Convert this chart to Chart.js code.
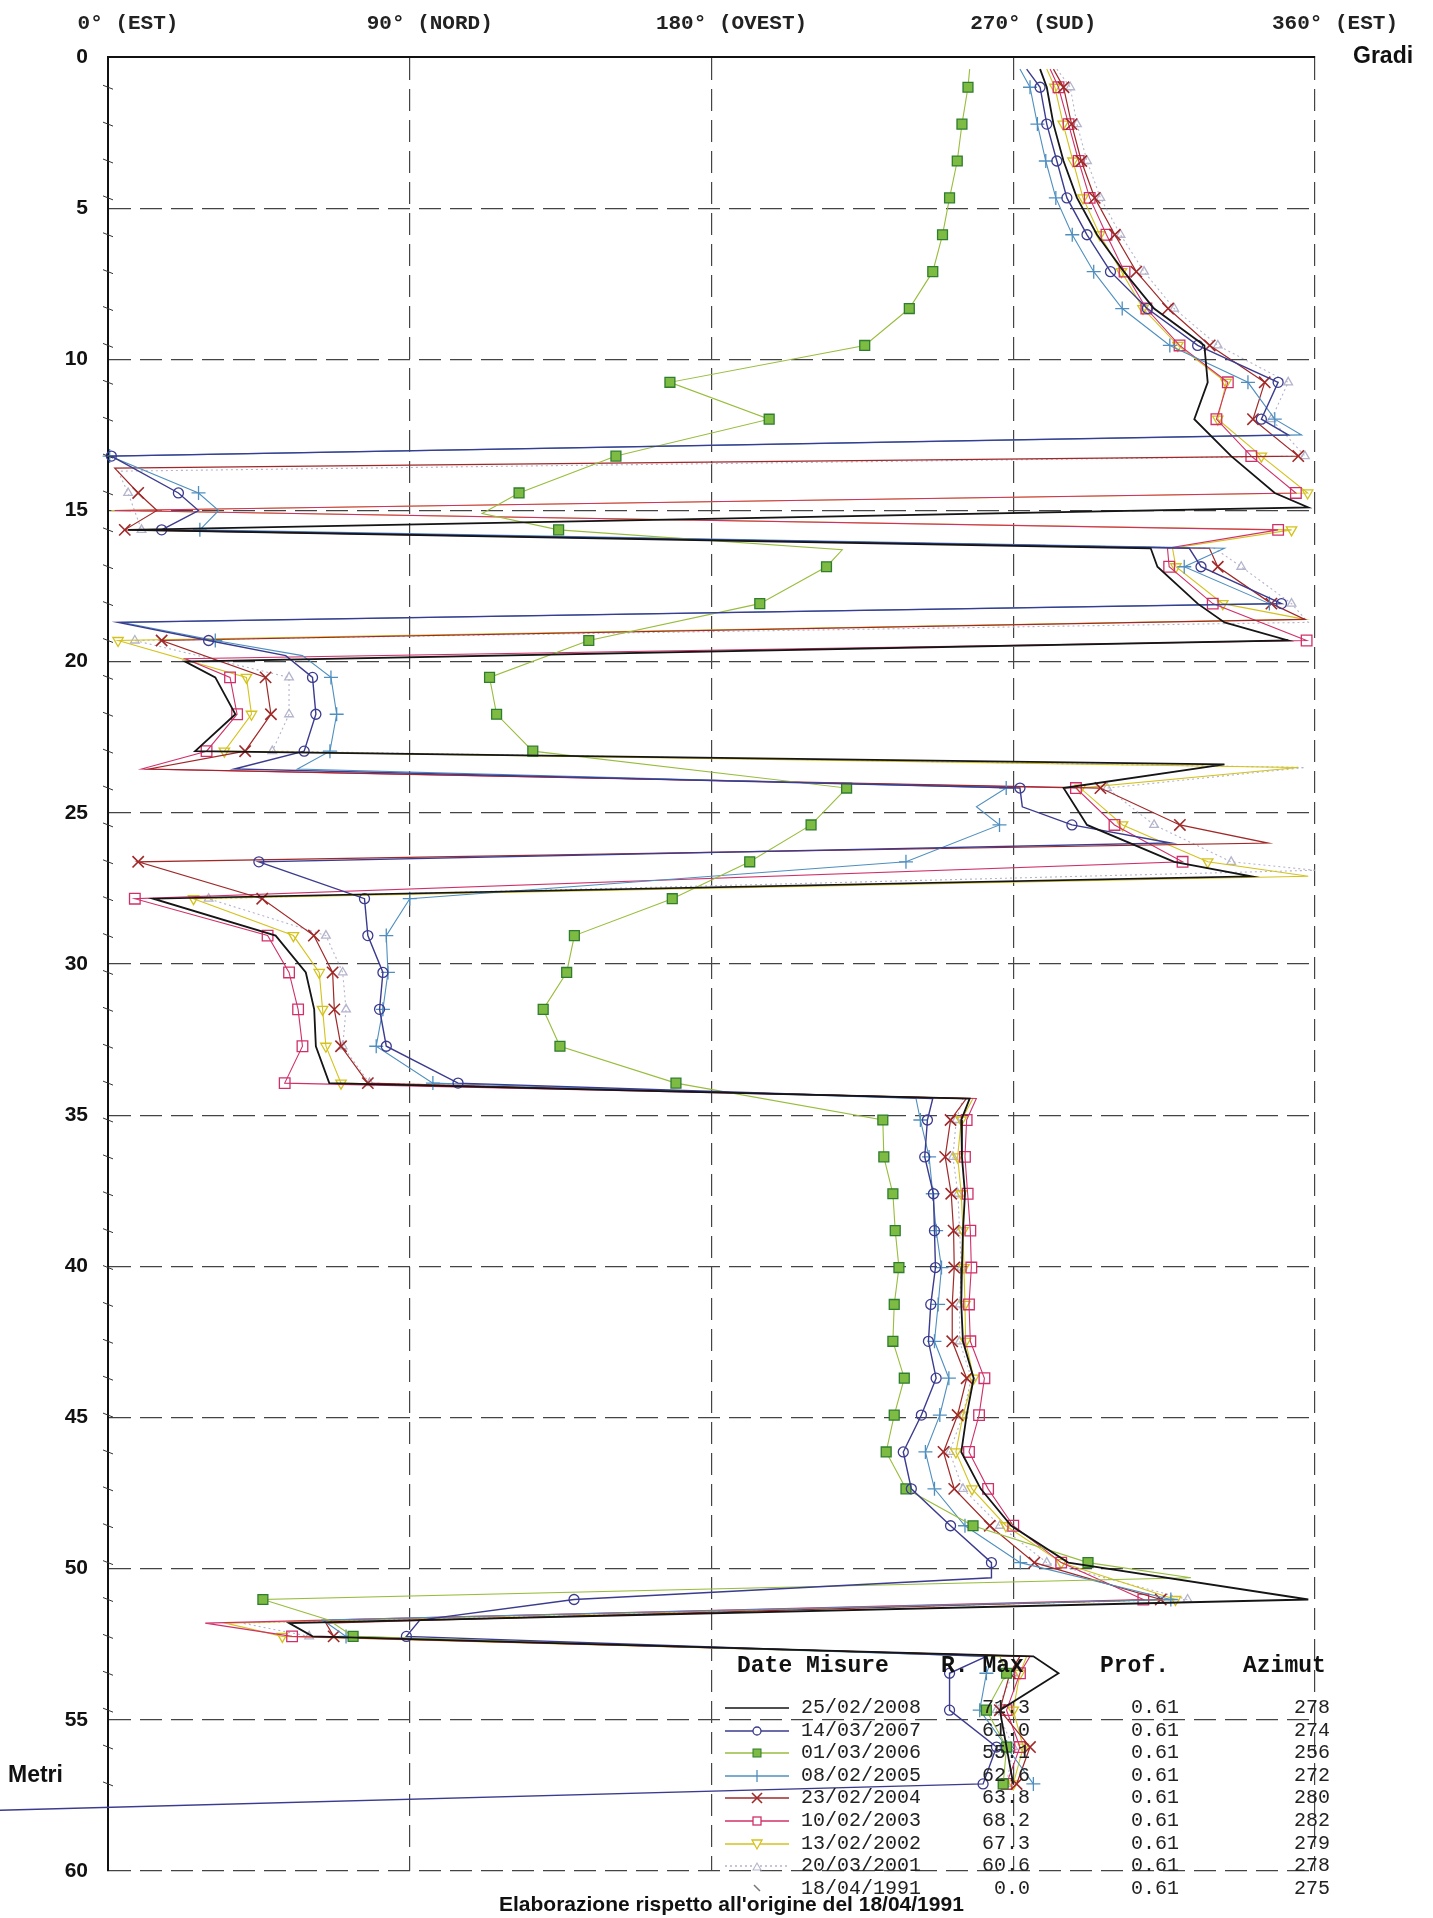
<!DOCTYPE html>
<html>
<head>
<meta charset="utf-8">
<script src="https://cdn.jsdelivr.net/npm/chart.js@4.4.1/dist/chart.umd.min.js"></script>
<style>
  body { margin: 0; background: #fff; }
  #wrap { position: relative; width: 1433px; height: 1918px; overflow: hidden; }
  #chart { position: absolute; left: 0; top: 0; }
  .lbl { position: absolute; font-family: "Liberation Sans", Arial, sans-serif; font-weight: bold; color: #111; white-space: nowrap; }
  .mono { position: absolute; font-family: "Liberation Mono", "DejaVu Sans Mono", monospace; color: #222; white-space: nowrap; }
  .head { font-weight: bold; font-size: 23px; color: #111; }
  .row { font-size: 20px; }
</style>
</head>
<body>
<div id="wrap">
  <canvas id="chart" width="1433" height="1918"></canvas>
  <div class="lbl" style="left:1353px; top:42px; font-size:23px;">Gradi</div>
  <div class="lbl" style="left:8px; top:1761px; font-size:23px;">Metri</div>
  <div class="lbl" style="left:499px; top:1892px; font-size:21px;">Elaborazione rispetto all'origine del 18/04/1991</div>
  <div id="legend"></div>
</div>
<script>
// depths of the readings (m) and axis labels
const depths = [1.0, 2.22, 3.44, 4.66, 5.88, 7.1, 8.32, 9.54, 10.76, 11.98,
  13.2, 14.42, 15.64, 16.86, 18.08, 19.3, 20.52, 21.74, 22.96, 24.18,
  25.4, 26.62, 27.84, 29.06, 30.28, 31.5, 32.72, 33.94, 35.16, 36.38,
  37.6, 38.82, 40.04, 41.26, 42.48, 43.7, 44.92, 46.14, 47.36, 48.58,
  49.8, 51.02, 52.24, 53.46, 54.68, 55.9, 57.12];
const xTickLabels = ['0° (EST)', '90° (NORD)', '180° (OVEST)', '270° (SUD)', '360° (EST)'];

// azimuth (degrees) at each depth, one array per survey
const az2008 = [280, 282, 285, 289, 295, 303, 312, 327, 328, 324,
  335, 348, 6, 313, 325, 352, 32, 38, 26, 285,
  292, 318, 13.5, 50, 59, 61.5, 62, 66, 254.5, 254.7,
  255.6, 255, 254.7, 254.5, 255, 258.2, 256.1, 254.5, 260.3, 269.4,
  286.4, 358, 61, 283.5, 266, 268, 270];
const az2007 = [278, 280, 283, 286, 292, 299, 310, 325, 349, 344,
  1, 21, 16, 326, 350, 30, 61, 62, 58.5, 272,
  287.5, 45, 76.5, 77.5, 82, 81, 83, 104.4, 244.4, 243.6,
  246.2, 246.5, 246.8, 245.4, 244.7, 247, 242.6, 237.2, 239.6, 251.3,
  263.5, 139, 89, 251, 251, 265, 261];
const az2006 = [256.5, 254.7, 253.3, 251, 248.9, 246, 239, 225.7, 167.6, 197.2,
  151.5, 122.6, 134.4, 214.3, 194.4, 143.4, 113.8, 115.9, 126.7, 220.3,
  209.7, 191.4, 168.3, 139.1, 136.8, 129.8, 134.8, 169.4, 231.1, 231.4,
  234.1, 234.8, 235.9, 234.5, 234.1, 237.5, 234.5, 232.1, 238, 258,
  292.3, 46.2, 73.1, 268, 262, 268, 267];
const az2005 = [275, 277.2, 279.7, 282.7, 287.6, 294, 302.5, 316.7, 340, 348,
  0.5, 27, 27.4, 321, 346.4, 32, 66.5, 68.2, 66.2, 267.9,
  265.9, 238, 90, 83, 83.5, 82, 80, 96.9, 242.3, 244.9,
  246, 247, 248.6, 247.6, 246.5, 250.8, 248.1, 243.8, 246.5, 255.6,
  272.1, 317, 71, 262, 260, 268, 276];
const az2004 = [285, 287.4, 290.3, 294.3, 300.3, 306.7, 316.2, 328.6, 345, 341.5,
  355, 9, 5, 331, 347, 16, 47, 48.6, 40.9, 296,
  319.7, 9, 46, 61.4, 67, 67.5, 69.5, 77.5, 251.3, 249.7,
  251.5, 252.2, 252.4, 251.8, 251.8, 256.1, 253.4, 249.2, 252.4, 263,
  276.3, 314, 67.3, 269, 266, 275, 271];
const az2003 = [283.5, 286.5, 289.5, 292.8, 297.8, 303.2, 309.7, 319.6, 334, 330.6,
  341, 354.3, 349, 316.5, 329.5, 357.5, 36.4, 38.5, 29.4, 288.7,
  300.2, 320.5, 8, 47.6, 54, 56.7, 58, 52.7, 256.1, 255.6,
  256.4, 257.2, 257.5, 256.8, 257.2, 261.4, 259.8, 256.8, 262.5, 270,
  284.3, 308.8, 54.9, 272, 268, 272, 268];
const az2002 = [282.4, 284.9, 287.8, 290.8, 295.8, 302.3, 308.7, 319.1, 333.5, 331,
  344, 357.8, 353, 318.5, 332.5, 3, 41.3, 42.8, 34.7, 290,
  302.6, 328, 25.5, 55.3, 63, 64, 65, 69.5, 254.5, 253.4,
  254.5, 255, 255.3, 255.6, 255.8, 258.2, 255, 252.9, 257.7, 267.8,
  284.3, 318.4, 52, 272, 270, 273, 270];
const az2001 = [287, 289, 292, 296, 302, 309, 318, 331, 352, 347,
  357, 6, 10, 338, 353, 8, 54, 54, 49, 298,
  312, 335, 30, 65, 70, 71, 70, 78, 253, 252,
  253.5, 254, 254.5, 254, 254, 257.5, 255, 251, 255, 266,
  280, 322, 60, 270, 265, 270, 268];

// unmarked intermediate readings [depth, azimuth]
const extra2008 = [[0.4, 278], [14.9, 358], [16.25, 311], [18.7, 333], [20.0, 23], [23.4, 333], [27.1, 341], [34.45, 257], [51.8, 54], [52.9, 276]];
const extra2007 = [[0.4, 274], [12.5, 352], [15.0, 27], [16.25, 322.5], [18.7, 3], [19.8, 53], [23.55, 37.7], [24.8, 272.7], [26.0, 317], [34.45, 246], [50.3, 263.5], [51.7, 93], [52.9, 262], [58.0, -36]];
const extra2006 = [[0.4, 257], [15.1, 111.6], [16.3, 219], [50.3, 323], [51.7, 65.8], [52.9, 266]];
const extra2005 = [[0.4, 272], [12.5, 356], [15.0, 33], [16.25, 333], [18.7, 4], [19.8, 58], [23.55, 56.5], [24.8, 259], [34.45, 241], [51.7, 64], [52.9, 264]];
const extra2004 = [[0.4, 282], [13.6, 2], [15.0, 14.6], [16.25, 328.5], [18.6, 357], [23.55, 12.3], [26.0, 346], [34.45, 256], [51.8, 65], [52.9, 272]];
const extra2003 = [[0.4, 281], [15.0, 2], [16.25, 316], [19.9, 23], [23.55, 10], [34.45, 259], [51.8, 29], [52.9, 275]];
const extra2002 = [[0.4, 280], [15.0, 1], [16.25, 317.5], [18.6, 357], [23.5, 355], [27.1, 358], [34.45, 258], [51.8, 35], [52.9, 274]];
const extra2001 = [[0.4, 283], [13.7, 3], [16.25, 330], [18.7, 358], [23.5, 357], [26.9, 360], [34.45, 255], [51.8, 40], [52.9, 272]];

// legend table
const legendDates = ['25/02/2008', '14/03/2007', '01/03/2006', '08/02/2005', '23/02/2004', '10/02/2003', '13/02/2002', '20/03/2001', '18/04/1991'];
const rMax = ['71.3', '61.0', '55.1', '62.6', '63.8', '68.2', '67.3', '60.6', '0.0'];
const prof = ['0.61', '0.61', '0.61', '0.61', '0.61', '0.61', '0.61', '0.61', '0.61'];
const azimut = ['278', '274', '256', '272', '280', '282', '279', '278', '275'];

const styles = [
  { color: '#151515', width: 1.8, marker: 'none' },
  { color: '#3b3b8f', width: 1.4, marker: 'circle' },
  { color: '#98bd3c', width: 1.1, marker: 'rectFill', fill: '#7dbb42', edge: '#2f7d2f' },
  { color: '#4f8fbf', width: 1.1, marker: 'cross' },
  { color: '#a02828', width: 1.2, marker: 'crossRot' },
  { color: '#d0306a', width: 1.1, marker: 'rect' },
  { color: '#d4c21c', width: 1.1, marker: 'triDown' },
  { color: '#b4b4cc', width: 1.1, marker: 'triUp', dash: [2, 3] },
  { color: '#777', width: 1, marker: 'tick' }
];

function buildPoints(vals, extra) {
  const pts = depths.map((d, i) => ({ x: vals[i], y: d, m: true }));
  extra.forEach(e => pts.push({ x: e[1], y: e[0], m: false }));
  return pts.sort((a, b) => a.y - b.y);
}

function makeDataset(label, vals, extra, st) {
  const ds = {
    label: label,
    data: buildPoints(vals, extra),
    showLine: true,
    tension: 0,
    clip: false,
    borderColor: st.color,
    borderWidth: st.width,
    borderDash: st.dash || [],
    pointBorderColor: st.color,
    pointBackgroundColor: 'rgba(0,0,0,0)',
    pointBorderWidth: 1.3,
    pointHoverRadius: 0
  };
  let r = 0;
  if (st.marker === 'circle') { ds.pointStyle = 'circle'; r = 5; }
  if (st.marker === 'rectFill') { ds.pointStyle = 'rect'; r = 7; ds.pointBackgroundColor = st.fill; ds.pointBorderColor = st.edge; }
  if (st.marker === 'cross') { ds.pointStyle = 'cross'; r = 7; }
  if (st.marker === 'crossRot') { ds.pointStyle = 'crossRot'; r = 8; ds.pointBorderWidth = 1.6; }
  if (st.marker === 'rect') { ds.pointStyle = 'rect'; r = 7.5; }
  if (st.marker === 'triDown') { ds.pointStyle = 'triangle'; ds.pointRotation = 180; r = 6; }
  if (st.marker === 'triUp') { ds.pointStyle = 'triangle'; r = 5; }
  ds.pointRadius = ctx => (ctx.raw && ctx.raw.m ? r : 0);
  return ds;
}

const datasets = [
  makeDataset(legendDates[0], az2008, extra2008, styles[0]),
  makeDataset(legendDates[1], az2007, extra2007, styles[1]),
  makeDataset(legendDates[2], az2006, extra2006, styles[2]),
  makeDataset(legendDates[3], az2005, extra2005, styles[3]),
  makeDataset(legendDates[4], az2004, extra2004, styles[4]),
  makeDataset(legendDates[5], az2003, extra2003, styles[5]),
  makeDataset(legendDates[6], az2002, extra2002, styles[6]),
  makeDataset(legendDates[7], az2001, extra2001, styles[7])
];

// little ticks on the left axis at every reading depth
const axisMarks = {
  id: 'axisMarks',
  afterDraw(chart) {
    const { ctx, scales: { x, y } } = chart;
    const x0 = x.getPixelForValue(0);
    ctx.save();
    ctx.strokeStyle = '#333';
    ctx.lineWidth = 1;
    depths.forEach(d => {
      const py = y.getPixelForValue(d);
      ctx.beginPath();
      ctx.moveTo(x0 - 5, py - 2);
      ctx.lineTo(x0 + 5, py + 2);
      ctx.stroke();
    });
    ctx.restore();
  }
};

new Chart(document.getElementById('chart'), {
  type: 'scatter',
  data: { datasets: datasets },
  options: {
    responsive: false,
    animation: false,
    layout: { padding: { top: 0, left: 0, right: 118, bottom: 47 } },
    plugins: { legend: { display: false }, tooltip: { enabled: false } },
    scales: {
      x: {
        type: 'linear', position: 'top', min: 0, max: 360,
        afterFit: s => { s.height = 57; },
        ticks: {
          stepSize: 90, autoSkip: false, maxRotation: 0, padding: 21, labelOffset: 20,
          color: '#222',
          font: { family: '"Liberation Mono", "DejaVu Sans Mono", monospace', size: 21, weight: 'bold' },
          callback: v => xTickLabels[Math.round(v / 90)]
        },
        grid: { color: '#444', lineWidth: 1.2, drawTicks: false },
        border: { display: true, color: '#111', width: 2, dash: [22, 9] }
      },
      y: {
        type: 'linear', reverse: true, min: 0, max: 60,
        afterFit: s => { s.width = 108; },
        ticks: {
          stepSize: 5, padding: 20, color: '#111',
          font: { family: '"Liberation Sans", Arial, sans-serif', size: 21, weight: 'bold' }
        },
        grid: { color: '#444', lineWidth: 1.2, drawTicks: false },
        border: { display: true, color: '#111', width: 2, dash: [22, 9] }
      }
    }
  },
  plugins: [axisMarks]
});

// legend rows
function sampleSvg(st) {
  const c = st.color;
  let s = '<svg width="64" height="24" xmlns="http://www.w3.org/2000/svg">';
  if (st.marker !== 'tick') {
    s += '<line x1="0" y1="12" x2="64" y2="12" stroke="' + c + '" stroke-width="1.3"' +
      (st.dash ? ' stroke-dasharray="2 3"' : '') + '/>';
  }
  if (st.marker === 'circle') s += '<circle cx="32" cy="12" r="4" fill="#fff" stroke="' + c + '" stroke-width="1.3"/>';
  if (st.marker === 'rectFill') s += '<rect x="28" y="8" width="8" height="8" fill="' + st.fill + '" stroke="' + st.edge + '"/>';
  if (st.marker === 'cross') s += '<line x1="32" y1="6" x2="32" y2="18" stroke="' + c + '" stroke-width="1.3"/>';
  if (st.marker === 'crossRot') s += '<line x1="27" y1="7" x2="37" y2="17" stroke="' + c + '" stroke-width="1.6"/><line x1="37" y1="7" x2="27" y2="17" stroke="' + c + '" stroke-width="1.6"/>';
  if (st.marker === 'rect') s += '<rect x="28" y="8" width="8" height="8" fill="#fff" stroke="' + c + '" stroke-width="1.3"/>';
  if (st.marker === 'triDown') s += '<polygon points="27,8 37,8 32,17" fill="#fff" stroke="' + c + '" stroke-width="1.3"/>';
  if (st.marker === 'triUp') s += '<polygon points="28,16 36,16 32,9" fill="#fff" stroke="' + c + '" stroke-width="1.1"/>';
  if (st.marker === 'tick') s += '<line x1="29" y1="8" x2="35" y2="14" stroke="' + c + '" stroke-width="1.5"/>';
  return s + '</svg>';
}

const legend = document.getElementById('legend');
let html = '';
html += '<div class="mono head" style="left:737px; top:1653px;">Date Misure</div>';
html += '<div class="mono head" style="left:941px; top:1653px;">R. Max</div>';
html += '<div class="mono head" style="left:1100px; top:1653px;">Prof.</div>';
html += '<div class="mono head" style="left:1243px; top:1653px;">Azimut</div>';
legendDates.forEach((d, i) => {
  const top = Math.round(1696 + i * 22.6);
  html += '<div style="position:absolute; left:725px; top:' + top + 'px;">' + sampleSvg(styles[i]) + '</div>';
  html += '<div class="mono row" style="left:801px; top:' + top + 'px;">' + d + '</div>';
  html += '<div class="mono row" style="left:960px; width:70px; text-align:right; top:' + top + 'px;">' + rMax[i] + '</div>';
  html += '<div class="mono row" style="left:1131px; top:' + top + 'px;">' + prof[i] + '</div>';
  html += '<div class="mono row" style="left:1270px; width:60px; text-align:right; top:' + top + 'px;">' + azimut[i] + '</div>';
});
legend.innerHTML = html;
</script>
</body>
</html>
